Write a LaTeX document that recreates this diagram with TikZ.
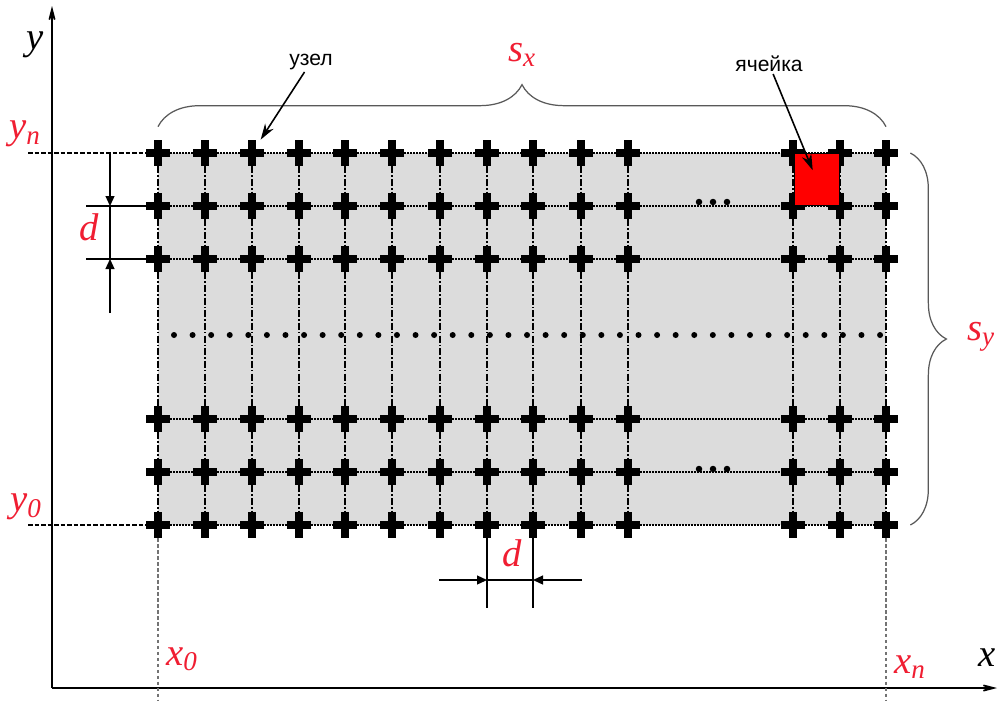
\documentclass[tikz,border=0pt]{standalone}
\usepackage{fontspec}
\setmainfont{Liberation Serif}
\newfontfamily\cyrfont{Liberation Sans}
\usepackage{tikz}
\usetikzlibrary{arrows.meta,decorations.pathreplacing,backgrounds}
\definecolor{labelred}{RGB}{240,30,50}
\definecolor{cellgray}{RGB}{220,220,220}
\newcommand{\ivar}[2]{\textit{#1}\textsubscript{\textit{#2}}}

\begin{document}
\begin{tikzpicture}[x=0.02cm, y=-0.02cm,
    knot/.style={inner sep=0pt, minimum width=0.48cm, minimum height=0.52cm,
      path picture={
        \fill ([yshift=0.08cm]path picture bounding box.west) rectangle ([yshift=-0.08cm]path picture bounding box.east);
        \fill ([xshift=-0.08cm]path picture bounding box.north) rectangle ([xshift=0.08cm]path picture bounding box.south);}},
    gridh/.style={line width=0.8pt, dash pattern=on 1pt off 0.7pt},
    gridv/.style={line width=0.6pt, dash pattern=on 4pt off 1.2pt on 0.8pt off 1.2pt},
    guide/.style={line width=1.1pt, dash pattern=on 2.6pt off 1.1pt},
    projline/.style={black!55, line width=0.6pt, dash pattern=on 2pt off 1.4pt},
    axis/.style={line width=0.9pt, -{Stealth[length=0.5cm, width=0.26cm, inset=0.32cm]}},
    dimline/.style={line width=0.7pt},
    dimarrow/.style={line width=0.7pt, -{Triangle[length=0.2cm, width=0.18cm]}},
    pointer/.style={line width=0.9pt, -{Stealth[length=0.32cm, width=0.2cm]}},
    curly/.style={decorate, decoration={brace, amplitude=#1}, draw=black!65, line width=0.7pt},
    redlabel/.style={text=labelred, font=\fontsize{22}{24}\selectfont, inner sep=0pt},
    axlabel/.style={font=\fontsize{22}{24}\selectfont\itshape, inner sep=0pt},
    caption/.style={font=\cyrfont\fontsize{12}{14}\selectfont, inner sep=1pt}
]
\useasboundingbox (0,0) rectangle (999,700);

% --- Узлы сетки ---
\foreach \y [count=\r] in {153,206,259,419,472,525}
  \foreach \x [count=\c] in {158,205,252,299,345,392,440,487,533,581,628,793,840,886}
    \node[knot] (n-\r-\c) at (\x,\y) {};

% --- Фон сетки ---
\begin{scope}[on background layer]
  \fill[white] (0,0) rectangle (999,700);
  \fill[cellgray] (n-1-1.center) rectangle (n-6-14.center);
\end{scope}

% --- Линии сетки ---
\foreach \r in {1,...,6}
  \foreach \c in {1,...,13} {
    \pgfmathtruncatemacro{\cn}{\c+1}
    \draw[gridh] (n-\r-\c) -- (n-\r-\cn);
  }
\foreach \c in {1,...,14}
  \foreach \r in {1,...,5} {
    \pgfmathtruncatemacro{\rn}{\r+1}
    \draw[gridv] (n-\r-\c) -- (n-\rn-\c);
  }

% --- Пропущенные строки и столбцы ---
\foreach \i in {0,...,38}
  \fill ({174+18.58*\i},335) circle[radius=0.06cm];
\foreach \x in {699,713,727} {
  \fill (\x,202) circle[radius=0.065cm];
  \fill (\x,469) circle[radius=0.065cm];
}

% --- Ячейка ---
\node[draw, fill=red, line width=0.5pt, minimum width=0.9cm, minimum height=1.04cm, inner sep=0pt] (cell) at (816.5,179.5) {};

% --- Оси ---
\coordinate (origin) at (52,688);
\coordinate (ytip) at (52,6);
\coordinate (xtip) at (997,688);
\draw[axis] (origin) -- (ytip);
\draw[axis] (origin) -- (xtip);
\node[axlabel] (ylab) at (35,45) {y};
\node[axlabel] (xlab) at (987,658) {x};

% --- Границы области ---
\coordinate (yn-end) at (28,153);
\coordinate (y0-end) at (28,525);
\coordinate (bottom) at (0,700);
\draw[guide] (yn-end) -- (n-1-1.west);
\draw[guide] (y0-end) -- (n-6-1.west);
\draw[projline] (n-6-1.south) -- (n-6-1.south |- bottom);
\draw[projline] (n-6-14.south) -- (n-6-14.south |- bottom);
\node[redlabel] (yn) at (25,134) {\ivar{y}{n}};
\node[redlabel] (y0) at (26,507) {\ivar{y}{0}};
\node[redlabel] (x0) at (182,659) {\ivar{x}{0}};
\node[redlabel] (xn) at (910,667) {\ivar{x}{n}};

% --- Размеры области ---
\draw[curly=0.84cm] ([yshift=0.26cm]n-1-1.north) -- ([yshift=0.26cm]n-1-14.north);
\draw[curly=0.72cm] ([xshift=0.24cm]n-1-14.east) -- ([xshift=0.24cm]n-6-14.east);
\node[redlabel] (sx) at (522,55) {\ivar{s}{x}};
\node[redlabel] (sy) at (981,337) {\ivar{s}{y}};

% --- Шаг сетки по y ---
\coordinate (dtop) at (110,153);
\coordinate (dbot) at (110,313);
\coordinate (d1) at (110,206);
\coordinate (d2) at (110,259);
\coordinate (e1) at (86,206);
\coordinate (e2) at (86,259);
\draw[dimline] (e1) -- (n-2-1.west);
\draw[dimline] (e2) -- (n-3-1.west);
\draw[dimarrow] (dtop) -- (d1);
\draw[dimline] (d1) -- (d2);
\draw[dimarrow] (dbot) -- (d2);
\node[redlabel] (dy) at (89,227) {\textit{d}};

% --- Шаг сетки по x ---
\coordinate (f1) at (487,580);
\coordinate (f2) at (533,580);
\coordinate (g1) at (439,580);
\coordinate (g2) at (582,580);
\draw[dimline] (n-6-8.south) -- ++(0,70);
\draw[dimline] (n-6-9.south) -- ++(0,70);
\draw[dimarrow] (g1) -- (f1);
\draw[dimline] (f1) -- (f2);
\draw[dimarrow] (g2) -- (f2);
\node[redlabel] (dx) at (512,553) {\textit{d}};

% --- Подписи ---
\node[caption] (uzel) at (311,62) {узел};
\node[caption] (yach) at (769,64) {ячейка};
\draw[pointer] (uzel) -- (n-1-3);
\draw[pointer, shorten >=0.2cm] (yach) -- (cell.center);

\end{tikzpicture}
\end{document}
